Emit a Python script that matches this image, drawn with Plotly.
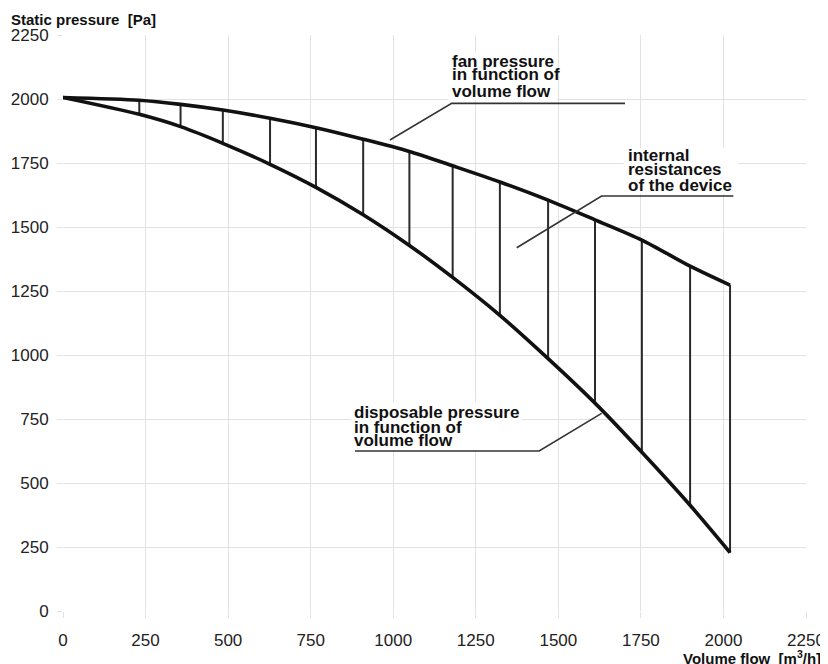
import plotly.graph_objects as go

# ---- data ----
flow = [0, 231, 356, 484, 627, 766, 909, 1049, 1180, 1323, 1469, 1611, 1753, 1899, 2020]
fan_pressure = [2006, 1995, 1979, 1957, 1925, 1888, 1843, 1795, 1739, 1676, 1605, 1528, 1449, 1347, 1273]
disposable_pressure = [2006, 1940, 1892, 1827, 1745, 1655, 1548, 1428, 1303, 1155, 986, 812, 620, 413, 228]

x_ticks = [0, 250, 500, 750, 1000, 1250, 1500, 1750, 2000, 2250]
y_ticks = [0, 250, 500, 750, 1000, 1250, 1500, 1750, 2000, 2250]

fan_label = ["fan pressure", "in function of", "volume flow"]
internal_label = ["internal", "resistances", "of the device"]
disposable_label = ["disposable pressure", "in function of", "volume flow"]

fan_leader_x = [990, 1177, 1702]
fan_leader_y = [1840, 1983, 1983]
internal_leader_x = [1374, 1631, 2030]
internal_leader_y = [1419, 1621, 1621]
disposable_leader_x = [884, 1442, 1631]
disposable_leader_y = [625, 625, 772]

FONT = "Liberation Sans, Arial, sans-serif"
INK = "#111111"

fig = go.Figure()

# vertical hatch lines between the curves (skip the common start point)
vx, vy = [], []
for xv, top, bot in zip(flow[1:], fan_pressure[1:], disposable_pressure[1:]):
    vx += [xv, xv, None]
    vy += [top, bot, None]
fig.add_trace(go.Scatter(x=vx, y=vy, mode="lines",
                         line=dict(color="#2a2a2a", width=2), hoverinfo="skip"))

fig.add_trace(go.Scatter(x=flow, y=fan_pressure, mode="lines",
                         line=dict(color=INK, width=3.6, shape="spline", smoothing=0.8)))
fig.add_trace(go.Scatter(x=flow, y=disposable_pressure, mode="lines",
                         line=dict(color=INK, width=3.6, shape="spline", smoothing=0.8)))

for lx, ly in [(fan_leader_x, fan_leader_y),
               (internal_leader_x, internal_leader_y),
               (disposable_leader_x, disposable_leader_y)]:
    fig.add_trace(go.Scatter(x=lx, y=ly, mode="lines",
                             line=dict(color="#333333", width=1.6), hoverinfo="skip"))

# white boxes hiding the grid behind the labels
for x0, x1, y0, y1 in [(1165, 1495, 1996, 2180), (1698, 2045, 1629, 1809), (872, 1390, 629, 816)]:
    fig.add_shape(type="rect", xref="x", yref="y", x0=x0, x1=x1, y0=y0, y1=y1,
                  fillcolor="white", line=dict(width=0), layer="between")

def add_block(lines, x, ys):
    for t, yv in zip(lines, ys):
        fig.add_annotation(x=x, y=yv, xref="x", yref="y", text=f"<b>{t}</b>",
                           showarrow=False, xanchor="left", yanchor="middle",
                           font=dict(family=FONT, size=17, color=INK))

add_block(fan_label, 1171, [2148, 2094, 2031])
add_block(internal_label, 1704, [1778, 1723, 1661])
add_block(disposable_label, 876, [776, 718, 665])

fig.add_annotation(xref="paper", yref="paper", x=-0.073, y=1.027, xanchor="left", yanchor="middle",
                   text="<b>Static pressure  [Pa]</b>", showarrow=False,
                   font=dict(family=FONT, size=15, color=INK))
fig.add_annotation(xref="paper", yref="paper", x=1.0235, y=-0.08, xanchor="right", yanchor="middle",
                   text="<b>Volume flow  [m<sup>3</sup>/h]</b>", showarrow=False,
                   font=dict(family=FONT, size=15, color=INK))

grid = "#e2e2e2"
fig.update_layout(
    width=820, height=656,
    margin=dict(l=55, r=22, t=27, b=53, autoexpand=False),
    paper_bgcolor="white", plot_bgcolor="white",
    showlegend=False,
    xaxis=dict(range=[0, 2250], tickvals=x_ticks, ticktext=[str(v) for v in x_ticks],
               showgrid=True, gridcolor=grid, gridwidth=1, zeroline=False, showline=False,
               ticks="outside", ticklen=6, tickcolor=grid, ticklabelstandoff=8, automargin=False,
               tickfont=dict(family=FONT, size=17, color="#222222")),
    yaxis=dict(range=[0, 2250], tickvals=y_ticks, ticktext=[str(v) for v in y_ticks],
               showgrid=True, gridcolor=grid, gridwidth=1, zeroline=False, showline=False,
               ticks="outside", ticklen=5, tickcolor=grid, ticklabelstandoff=5, automargin=False,
               tickfont=dict(family=FONT, size=17, color="#222222")),
)

fig.write_html("out.html")
